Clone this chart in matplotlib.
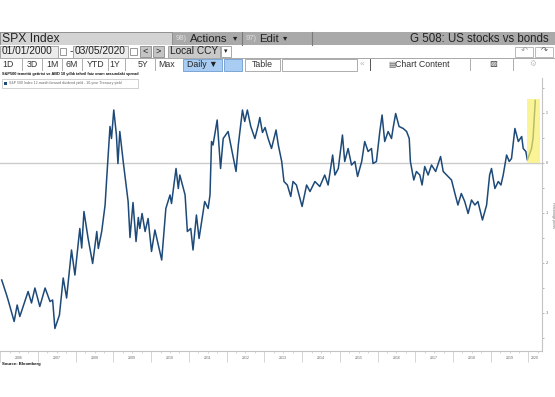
import matplotlib
matplotlib.use("Agg")
import matplotlib.pyplot as plt
from matplotlib.patches import Rectangle
from matplotlib.ticker import MultipleLocator
import matplotlib.transforms as mtransforms

plt.rcParams["font.family"] = ["Liberation Sans", "DejaVu Sans"]

# --- Serie: S&P 500 12m forward dividend yield - 10y Treasury (p.p.) ---
years = [
    2006.04, 2006.17, 2006.21, 2006.37, 2006.45, 2006.52, 2006.74, 2006.83,
    2006.92, 2007.05, 2007.19, 2007.32, 2007.39, 2007.45, 2007.57, 2007.67,
    2007.76, 2007.89, 2007.98, 2008.11, 2008.16, 2008.22, 2008.33, 2008.45,
    2008.56, 2008.60, 2008.69, 2008.78, 2008.82, 2008.91, 2008.95, 2009.01,
    2009.08, 2009.12, 2009.17, 2009.26, 2009.39, 2009.44, 2009.52, 2009.60,
    2009.66, 2009.70, 2009.76, 2009.84, 2009.92, 2010.01, 2010.10, 2010.19,
    2010.28, 2010.39, 2010.50, 2010.54, 2010.66, 2010.72, 2010.76, 2010.90,
    2010.96, 2011.05, 2011.11, 2011.20, 2011.27, 2011.42, 2011.51, 2011.56,
    2011.60, 2011.64, 2011.75, 2011.84, 2011.91, 2012.04, 2012.13, 2012.25,
    2012.31, 2012.42, 2012.48, 2012.55, 2012.64, 2012.75, 2012.84, 2012.88,
    2012.95, 2013.02, 2013.10, 2013.19, 2013.31, 2013.37, 2013.46, 2013.52,
    2013.61, 2013.70, 2013.76, 2013.85, 2014.00, 2014.12, 2014.21, 2014.34,
    2014.47, 2014.60, 2014.69, 2014.81, 2014.87, 2014.96, 2015.07, 2015.13,
    2015.22, 2015.31, 2015.40, 2015.47, 2015.58, 2015.66, 2015.75, 2015.84,
    2015.88, 2015.97, 2016.06, 2016.12, 2016.19, 2016.28, 2016.37, 2016.41,
    2016.48, 2016.57, 2016.68, 2016.77, 2016.84, 2016.87, 2016.96, 2017.03,
    2017.12, 2017.18, 2017.25, 2017.34, 2017.43, 2017.54, 2017.67, 2017.74,
    2017.87, 2017.96, 2018.05, 2018.13, 2018.22, 2018.31, 2018.40, 2018.49,
    2018.58, 2018.66, 2018.78, 2018.89, 2018.97, 2019.02, 2019.11, 2019.20,
    2019.27, 2019.33, 2019.42, 2019.49, 2019.55, 2019.64, 2019.73, 2019.82,
    2019.86, 2019.93, 2019.97, 2020.08, 2020.12, 2020.18,
]
spread = [
    -2.35, -2.65, -2.75, -3.18, -2.85, -3.08, -2.58, -2.81,
    -2.51, -2.88, -2.51, -2.78, -2.75, -3.32, -3.05, -2.31,
    -2.71, -1.75, -2.25, -1.32, -1.71, -0.98, -1.52, -2.02,
    -1.38, -1.72, -1.38, -0.85, -0.35, 0.72, 0.48, 1.05,
    0.55, -0.02, 0.62, 0.02, -0.78, -1.50, -0.80, -1.58,
    -1.10, -1.32, -1.02, -1.38, -1.12, -1.78, -1.35, -1.65,
    -1.95, -0.92, -0.65, -0.82, -0.12, -0.52, -0.25, -0.65,
    -1.38, -1.32, -1.75, -1.05, -1.52, -0.78, -0.92, -0.65,
    0.42, 0.35, 0.85, -0.12, 0.48, 0.62, 0.28, -0.18,
    0.35, 1.05, 0.82, 1.05, 0.72, 0.48, 0.75, 0.90,
    0.60, 0.70, 0.48, 0.28, 0.65, 0.35, 0.02, -0.38,
    -0.45, -0.68, -0.38, -0.45, -0.88, -0.45, -0.58, -0.38,
    -0.48, -0.25, -0.45, 0.15, -0.25, -0.12, 0.55, 0.02,
    0.28, -0.05, 0.02, -0.28, 0.02, 0.42, 0.22, 0.28,
    -0.02, 0.02, 0.62, 0.95, 0.42, 0.62, 0.48, 0.68,
    0.98, 0.72, 0.68, 0.62, 0.48, 0.02, -0.35, -0.18,
    -0.25, -0.45, -0.08, -0.25, -0.05, -0.18, 0.12, -0.18,
    -0.28, -0.35, -0.62, -0.85, -0.62, -0.78, -1.02, -0.75,
    -0.85, -0.78, -1.15, -0.85, -0.25, -0.12, -0.52, -0.38,
    -0.45, -0.25, 0.15, 0.02, 0.08, 0.68, 0.42, 0.52,
    0.28, 0.22, 0.05, 0.28, 0.48, 1.24,
]

year_labels = [str(y) for y in range(2006, 2021)]
y_ticks = [-3, -2, -1, 0, 1]

# vurgulanan 2020 bolgesi (sari kutu)
hl_start, hl_end, hl_top = 2019.97, 2020.30, 1.28

W, H = 555, 397
NAVY = "#1d4a78"

fig = plt.figure(figsize=(W / 100, H / 100), dpi=100)

# --- Bloomberg ust menu (piksel koordinatlari) ---
hdr = fig.add_axes([0, 0, 1, 1])
hdr.set_xlim(0, W)
hdr.set_ylim(H, 0)
hdr.axis("off")


def box(x0, y0, x1, y1, fc, ec="none", lw=0.6):
    hdr.add_patch(Rectangle((x0, y0), x1 - x0, y1 - y0, facecolor=fc,
                            edgecolor=ec, linewidth=lw))


def txt(x, y, s, size, color="#222222", ha="left", **kw):
    hdr.text(x, y, s, fontsize=size, color=color, ha=ha, va="center", **kw)


# satir 1
box(0, 31.5, W, 45, "#a9a9a9")
box(0, 31.5, 172, 45, "#d3d3d3", "#8a8a8a")
txt(2, 38.5, "SPX Index", 8.7)
hdr.plot([242, 242], [31.5, 45], color="#7a7a7a", lw=0.8)
hdr.plot([312, 312], [31.5, 45], color="#7a7a7a", lw=0.8)
txt(176, 38.5, "98)", 5.5, color="#dedede")
txt(190, 38.5, "Actions", 8.2)
txt(233, 39, "▾", 6)
txt(246, 38.5, "97)", 5.5, color="#dedede")
txt(259, 38.5, "Edit", 8.2)
txt(283, 39, "▾", 6)
txt(549, 38.5, "G 508: US stocks vs bonds", 8.3, ha="right")

# satir 2
box(0, 45, W, 58, "white")
box(0, 45.5, 58, 57.5, "#ececec", "#9a9a9a")
txt(1.5, 51.5, "01/01/2000", 7.3)
box(59.5, 47.5, 66, 55, "white", "#888888")
txt(69.5, 51.5, "-", 7.3)
box(73, 45.5, 128, 57.5, "#ececec", "#9a9a9a")
txt(74.5, 51.5, "03/05/2020", 7.3)
box(130, 47.5, 136.5, 55, "white", "#888888")
box(140, 46, 151, 57, "#c4c4c4", "#8a8a8a")
box(153, 46, 164, 57, "#c4c4c4", "#8a8a8a")
txt(145.5, 51.5, "<", 6.5, ha="center")
txt(158.5, 51.5, ">", 6.5, ha="center")
box(168, 45.5, 220, 57.5, "#c9c9c9", "#9a9a9a")
txt(170, 51.5, "Local CCY", 7.3)
box(221, 46, 231, 57, "white", "#9a9a9a")
txt(226, 52, "▾", 5, ha="center")
box(515, 46.5, 533, 57, "white", "#b0b0b0")
box(535, 46.5, 553, 57, "white", "#b0b0b0")
txt(524, 51.5, "↶", 6, color="#9a9a9a", ha="center")
txt(544, 51.5, "↷", 6, color="#555555", ha="center")

# satir 3
box(0, 58, W, 71, "white")
hdr.plot([0, W], [58.3, 58.3], color="#9a9a9a", lw=0.6)
periods = ["1D", "3D", "1M", "6M", "YTD", "1Y", "5Y", "Max"]
p_centers = [8, 32, 52, 72, 96, 115, 143, 167]
p_seps = [21.7, 41.7, 61.7, 81.7, 108, 125, 155]
for lab, cx in zip(periods, p_centers):
    txt(cx, 64.5, lab, 6.3, ha="center", color="#333333")
for sx in p_seps:
    hdr.plot([sx, sx], [59, 70], color="#a0a0a0", lw=0.6)
box(183, 58.8, 222, 70.5, "#a9cdf2", "#6c9bd0")
txt(202, 64.5, "Daily ▼", 6.3, ha="center")
box(224, 58.8, 242, 70.5, "#a9cdf2", "#6c9bd0")
box(245, 58.8, 280, 70.5, "white", "#a0a0a0")
txt(262, 64.5, "Table", 6.3, ha="center", color="#333333")
box(282, 58.8, 357, 70.5, "white", "#a0a0a0")
txt(362, 64.5, "«", 6, ha="center", color="#b0b0b0")
hdr.plot([370, 370], [59, 70], color="#555555", lw=0.7)
txt(422, 64.5, "Chart Content", 6.3, ha="center", color="#333333")
txt(392, 64.5, "▤", 5.5, ha="center", color="#555555", family="DejaVu Sans")
hdr.plot([470, 470], [59, 70], color="#a0a0a0", lw=0.6)
txt(493, 64.5, "▨", 6, ha="center", color="#444444")
hdr.plot([513, 513], [59, 70], color="#a0a0a0", lw=0.6)
txt(533, 64.5, "⚙", 5.5, ha="center", color="#c0c0c0")

# grafik basligi ve lejant
txt(2, 74.5, "S&P500 temettü getirisi ve ABD 10 yıllık tahvil faiz oranı arasındaki spread",
    2.8, fontweight="bold", color="#111111")
box(2, 79, 138, 87.5, "white", "#bdbdbd", lw=0.5)
box(4, 81.5, 7, 84.5, NAVY)
txt(9, 83.3, "S&P 500 Index 12-month forward dividend yield - 10-year Treasury yield",
    2.5, color="#666666")
txt(2, 363.5, "Source: Bloomberg", 3.1, fontweight="bold", color="#111111")

# --- grafik ---
top_px, bot_px, right_px = 78, 351, 541.7
ax = fig.add_axes([0, (H - bot_px) / H, right_px / W, (bot_px - top_px) / H])
ax.set_facecolor("none")
ax.set_xlim(2005.995, 2020.35)
ax.set_ylim((162.5 - bot_px) / 50, (162.5 - top_px) / 50)

ax.axhline(0, color="#cccccc", lw=1.0, zorder=1)
ax.plot(years, spread, color=NAVY, lw=1.1, zorder=2)
ax.add_patch(Rectangle((hl_start, 0), hl_end - hl_start, hl_top,
                       facecolor="#f8f06a", alpha=0.7, edgecolor="none", zorder=3))

for s in ["top", "left"]:
    ax.spines[s].set_visible(False)
for s in ["right", "bottom"]:
    ax.spines[s].set_color("#c4c4c4")
    ax.spines[s].set_linewidth(0.8)

ax.yaxis.tick_right()
ax.set_yticks(y_ticks, [str(v) for v in y_ticks])
ax.yaxis.set_minor_locator(MultipleLocator(0.5))
ax.tick_params(axis="y", which="both", direction="out", colors="#9a9a9a",
               labelcolor="#666666", labelsize=2.6, length=1.5, width=0.5, pad=1.5)
ax.set_ylabel("Percentage points", fontsize=2.3, color="#666666",
              rotation=270, labelpad=4)
ax.yaxis.set_label_position("right")

ax.set_xticks(range(2006, 2021), [""] * 15)
ax.xaxis.set_minor_locator(MultipleLocator(0.25))
ax.tick_params(axis="x", which="major", length=8, width=0.5, color="#c4c4c4")
ax.tick_params(axis="x", which="minor", length=1.5, width=0.5, color="#c4c4c4")
trans = mtransforms.blended_transform_factory(ax.transData, ax.transAxes)
mids = [y + 0.5 for y in range(2006, 2020)] + [2020.175]
for lab, xm in zip(year_labels, mids):
    ax.text(xm, -0.025, lab, transform=trans, fontsize=2.5, color="#666666",
            ha="center", va="center")

fig.savefig("out.png", dpi=100)
